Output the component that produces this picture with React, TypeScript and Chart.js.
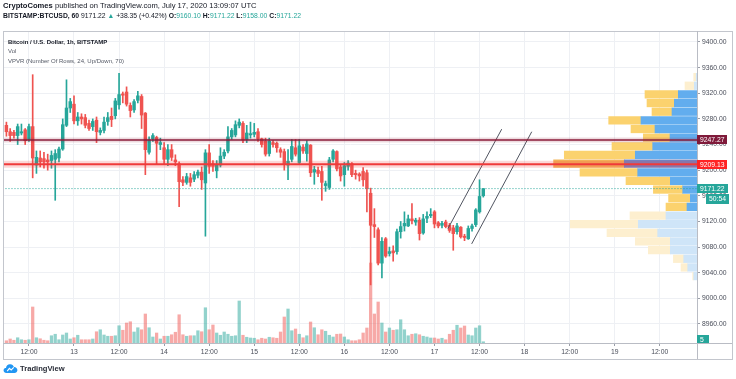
import React, { useEffect, useRef } from 'react';
import { Chart, registerables } from 'chart.js';

Chart.register(...registerables);

// ---- Data (hourly candles, Jul 12 06:00 -> Jul 17 13:00) ----
const candleOpen = [
  9270, 9260, 9259, 9254, 9258, 9263, 9248, 9268, 9208, 9219, 9218, 9216, 9215, 9217, 9219, 9233,
  9270, 9297, 9303, 9277, 9283, 9282, 9273, 9268, 9278, 9259, 9262, 9276, 9284, 9285, 9302, 9319,
  9322, 9301, 9294, 9309, 9315, 9289, 9228, 9249, 9251, 9240, 9235, 9217, 9232, 9216, 9210, 9185,
  9181, 9188, 9186, 9192, 9197, 9180, 9227, 9210, 9199, 9208, 9222, 9230, 9252, 9255, 9270, 9273,
  9248, 9255, 9256, 9260, 9249, 9245, 9226, 9243, 9242, 9232, 9229, 9208, 9217, 9235, 9212, 9236,
  9226, 9239, 9197, 9200, 9198, 9176, 9173, 9217, 9229, 9205, 9193, 9206, 9210, 9195, 9194, 9198,
  9196, 9164, 9115, 9107, 9055, 9093, 9070, 9074, 9073, 9104, 9113, 9113, 9124, 9119, 9122, 9102,
  9125, 9129, 9135, 9118, 9114, 9119, 9114, 9110, 9104, 9111, 9097, 9093, 9109, 9115, 9135, 9160.1,
];
const candleHigh = [
  9275, 9265, 9262, 9272, 9272, 9265, 9272, 9349, 9230, 9230, 9228, 9225, 9230, 9232, 9236, 9280,
  9341, 9312, 9316, 9290, 9288, 9287, 9278, 9280, 9283, 9266, 9283, 9290, 9297, 9312, 9351, 9322,
  9330, 9305, 9310, 9323, 9318, 9290, 9252, 9257, 9253, 9250, 9243, 9240, 9240, 9224, 9213, 9190,
  9195, 9195, 9198, 9200, 9205, 9232, 9240, 9215, 9215, 9235, 9232, 9268, 9265, 9277, 9280, 9276,
  9270, 9275, 9273, 9265, 9250, 9250, 9250, 9246, 9244, 9235, 9233, 9232, 9248, 9248, 9248, 9240,
  9246, 9240, 9206, 9205, 9206, 9183, 9220, 9232, 9230, 9208, 9212, 9215, 9212, 9200, 9196, 9204,
  9200, 9172, 9140, 9110, 9095, 9095, 9080, 9082, 9108, 9120, 9135, 9130, 9148, 9125, 9126, 9131,
  9135, 9140, 9137, 9120, 9120, 9122, 9117, 9114, 9117, 9112, 9100, 9113, 9116, 9140, 9185, 9171.22,
];
const candleLow = [
  9253, 9245, 9250, 9240, 9255, 9240, 9245, 9188, 9195, 9205, 9203, 9200, 9203, 9153, 9213, 9231,
  9268, 9290, 9272, 9270, 9272, 9266, 9262, 9262, 9243, 9255, 9258, 9270, 9268, 9280, 9295, 9305,
  9300, 9283, 9290, 9305, 9265, 9193, 9225, 9245, 9210, 9232, 9210, 9207, 9215, 9207, 9143, 9176,
  9178, 9175, 9182, 9188, 9170, 9097, 9195, 9198, 9188, 9205, 9218, 9227, 9248, 9252, 9266, 9243,
  9243, 9250, 9252, 9245, 9236, 9222, 9222, 9236, 9228, 9220, 9200, 9185, 9213, 9222, 9210, 9226,
  9214, 9190, 9178, 9190, 9153, 9167, 9170, 9213, 9199, 9183, 9175, 9200, 9190, 9186, 9183, 9175,
  9135, 9021, 9095, 9052, 9032, 9064, 9066, 9058, 9069, 9094, 9105, 9112, 9116, 9114, 9091, 9100,
  9118, 9126, 9110, 9110, 9110, 9110, 9103, 9075, 9100, 9094, 9090, 9092, 9105, 9112, 9133, 9158,
];
const candleClose = [
  9260, 9254, 9254, 9268, 9260, 9246, 9268, 9219, 9220, 9213, 9213, 9213, 9223, 9226, 9233, 9271,
  9297, 9307, 9277, 9283, 9280, 9270, 9265, 9276, 9260, 9262, 9275, 9282, 9279, 9308, 9318, 9317,
  9303, 9293, 9307, 9316, 9286, 9232, 9247, 9254, 9242, 9243, 9217, 9232, 9220, 9213, 9182, 9181,
  9190, 9181, 9193, 9197, 9185, 9227, 9206, 9206, 9208, 9222, 9228, 9252, 9262, 9271, 9275, 9247,
  9258, 9257, 9259, 9249, 9240, 9225, 9245, 9240, 9235, 9228, 9210, 9214, 9237, 9225, 9238, 9230,
  9241, 9196, 9201, 9195, 9181, 9179, 9216, 9230, 9202, 9191, 9207, 9211, 9193, 9193, 9191, 9185,
  9171, 9114, 9112, 9055, 9089, 9066, 9073, 9071, 9104, 9112, 9117, 9124, 9121, 9122, 9101, 9124,
  9128, 9131, 9116, 9113, 9117, 9112, 9106, 9101, 9113, 9096, 9095, 9109, 9113, 9138, 9159, 9171.22,
];
const volume = [
  9, 16, 11, 21, 13, 11, 13, 144, 21, 17, 11, 9, 29, 35, 13, 32,
  40, 16, 21, 31, 13, 13, 13, 16, 45, 53, 32, 27, 27, 29, 69, 51,
  80, 85, 44, 61, 53, 116, 61, 24, 40, 16, 27, 27, 33, 43, 113, 33,
  27, 29, 29, 49, 45, 141, 53, 72, 40, 31, 44, 35, 27, 29, 168, 31,
  23, 20, 19, 13, 19, 16, 23, 21, 19, 44, 104, 136, 49, 56, 35, 21,
  29, 84, 61, 33, 53, 47, 31, 24, 35, 36, 24, 13, 9, 9, 13, 40,
  60, 320, 116, 164, 80, 44, 60, 51, 53, 93, 53, 29, 35, 37, 33, 27,
  24, 20, 20, 16, 19, 13, 35, 51, 71, 60, 68, 32, 29, 60, 69, 5,
];

// Volume profile (VPVR, 24 rows, top -> bottom)
const vpRowPrice = [
  9345.25, 9331.75, 9318.25, 9304.75, 9291.25, 9277.75, 9264.25, 9250.75, 9237.25, 9223.75, 9210.25, 9196.75,
  9183.25, 9169.75, 9156.25, 9142.75, 9129.25, 9115.75, 9102.25, 9088.75, 9075.25, 9061.75, 9048.25, 9034.75,
];
const vpUp = [8, 27, 187, 227, 250, 560, 420, 270, 443, 617, 727, 593, 267, 143, 67, 100, 310, 587, 393, 267, 267, 133, 93, 33];
const vpDown = [25, 93, 333, 273, 200, 323, 240, 267, 407, 710, 707, 577, 443, 293, 217, 210, 360, 680, 507, 350, 220, 103, 67, 10];
const vpValueAreaFirst = 2;
const vpValueAreaLast = 15;
const vpPocRow = 10;

// Axis ticks
const timeTickHours = [6, 18, 30, 42, 54, 66, 78, 90, 102, 114, 126, 138, 150, 162, 174];
const timeTickLabels = ['12:00', '13', '12:00', '14', '12:00', '15', '12:00', '16', '12:00', '17', '12:00', '18', '12:00', '19', '12:00'];
const priceTicks = [8960, 9000, 9040, 9080, 9120, 9160, 9200, 9240, 9280, 9320, 9360, 9400];

// Drawn levels and trend lines
const resistanceLevel = 9247.27;
const supportLevel = 9209.13;
const lastPrice = 9171.22;
const countdownText = '50:54';
const lastVolume = 5;
const trendLine1Hours = [117.6, 131.9];
const trendLine1Prices = [9109, 9264];
const trendLine2Hours = [123.9, 139.9];
const trendLine2Prices = [9085, 9260];

const FONT = "'Liberation Sans', 'DejaVu Sans', Arial, sans-serif";
const GREEN = '#26a69a';
const RED = '#ef5350';

const X_MIN = -0.64;
const X_MAX = 183.91;
const Y_MIN = 8930.35;
const Y_MAX = 9415.6;

export default function App() {
  const ref = useRef<HTMLCanvasElement | null>(null);

  useEffect(() => {
    const canvas = ref.current;
    if (!canvas) return;
    const idx = candleOpen.map((_, i) => i);
    const isUp = idx.map((i) => candleClose[i] >= candleOpen[i]);

    const hline = (price: number, color: string, width: number, dash?: number[]) => ({
      type: 'line' as const,
      data: [
        { x: X_MIN - 2, y: price },
        { x: X_MAX + 2, y: price },
      ],
      borderColor: color,
      borderWidth: width,
      borderDash: dash || [],
      pointRadius: 0,
      pointHitRadius: 0,
      xAxisID: 'x',
      yAxisID: 'y',
      order: 0,
    });
    const tline = (hs: number[], ps: number[]) => ({
      type: 'line' as const,
      data: hs.map((h, k) => ({ x: h, y: ps[k] })),
      borderColor: '#505460',
      borderWidth: 1,
      pointRadius: 0,
      pointHitRadius: 0,
      xAxisID: 'x',
      yAxisID: 'y',
      order: 0,
    });

    const vpColor = (k: number, kind: 'up' | 'down') => {
      if (k === vpPocRow) return kind === 'up' ? '#6f86c6' : '#f3b55a';
      const inVA = k >= vpValueAreaFirst && k <= vpValueAreaLast;
      if (kind === 'up') return inVA ? '#62adee' : '#cfe5f8';
      return inVA ? '#fbd26e' : '#fdefcf';
    };

    const labelsPlugin = {
      id: 'tvDecor',
      afterDraw(chart: any) {
        const c = chart.ctx;
        const area = chart.chartArea;
        const y = chart.scales.y;
        const yVol = chart.scales.yVol;
        c.save();
        c.strokeStyle = '#c3c6cd';
        c.lineWidth = 1;
        c.strokeRect(3.5, 31.5, 729, 328);
        c.strokeStyle = '#b9bcc4';
        c.beginPath();
        c.moveTo(3, area.bottom + 0.5);
        c.lineTo(732, area.bottom + 0.5);
        c.moveTo(area.right + 0.5, 31);
        c.lineTo(area.right + 0.5, 359);
        c.stroke();

        const box = (py: number, text: string, bg: string, x0: number, w: number, h: number) => {
          c.fillStyle = bg;
          c.fillRect(x0, Math.round(py - h / 2), w, h);
          c.fillStyle = '#ffffff';
          c.font = `6.8px ${FONT}`;
          c.textBaseline = 'middle';
          c.textAlign = 'left';
          c.fillText(text, x0 + 3, Math.round(py - h / 2) + h / 2 + 0.5);
        };
        const right = area.right;
        box(y.getPixelForValue(resistanceLevel), resistanceLevel.toFixed(2), '#7f1a3a', right, 30, 9);
        box(y.getPixelForValue(supportLevel), supportLevel.toFixed(2), '#ff2424', right, 30, 9);
        const lp = y.getPixelForValue(lastPrice);
        box(lp, lastPrice.toFixed(2), GREEN, right, 31, 9);
        box(lp + 10, countdownText, GREEN, right + 9, 23, 10);
        c.save();
        c.beginPath();
        c.rect(right, area.top, 40, area.bottom - area.top);
        c.clip();
        box(yVol.getPixelForValue(lastVolume) - 2, String(lastVolume), GREEN, right, 12, 9);
        c.restore();
        c.restore();
      },
    };

    const chart = new Chart(canvas, {
      type: 'bar',
      data: {
        datasets: [
          hline(resistanceLevel, 'rgba(142,27,54,0.16)', 5),
          hline(supportLevel, 'rgba(242,54,54,0.2)', 7),
          hline(resistanceLevel, '#8a1c38', 1.5),
          hline(supportLevel, '#ef3b3b', 2),
          hline(lastPrice, GREEN, 1, [1, 2]),
          tline(trendLine1Hours, trendLine1Prices),
          tline(trendLine2Hours, trendLine2Prices),
          {
            type: 'bar',
            data: idx.map((i) => ({ x: i, y: [candleOpen[i], candleClose[i]] })),
            backgroundColor: idx.map((i) => (isUp[i] ? GREEN : RED)),
            barThickness: 2.8,
            grouped: false,
            minBarLength: 1,
            xAxisID: 'x',
            yAxisID: 'y',
            order: 1,
          } as any,
          {
            type: 'bar',
            data: idx.map((i) => ({ x: i, y: [candleLow[i], candleHigh[i]] })),
            backgroundColor: idx.map((i) => (isUp[i] ? GREEN : RED)),
            barThickness: 1,
            grouped: false,
            xAxisID: 'x',
            yAxisID: 'y',
            order: 2,
          } as any,
          {
            type: 'bar',
            indexAxis: 'y',
            data: vpRowPrice.map((p, k) => ({ x: [0, vpUp[k]], y: p })),
            backgroundColor: vpRowPrice.map((_, k) => vpColor(k, 'up')),
            barThickness: 7.6,
            grouped: false,
            xAxisID: 'xProf',
            yAxisID: 'y',
            order: 3,
          } as any,
          {
            type: 'bar',
            indexAxis: 'y',
            data: vpRowPrice.map((p, k) => ({ x: [vpUp[k], vpUp[k] + vpDown[k]], y: p })),
            backgroundColor: vpRowPrice.map((_, k) => vpColor(k, 'down')),
            barThickness: 7.6,
            grouped: false,
            xAxisID: 'xProf',
            yAxisID: 'y',
            order: 3,
          } as any,
          {
            type: 'bar',
            data: idx.map((i) => ({ x: i, y: volume[i] })),
            backgroundColor: idx.map((i) => (isUp[i] ? 'rgba(38,166,154,0.5)' : 'rgba(239,83,80,0.5)')),
            barThickness: 2.6,
            grouped: false,
            xAxisID: 'x',
            yAxisID: 'yVol',
            order: 4,
          } as any,
        ],
      },
      options: {
        animation: false,
        responsive: false,
        devicePixelRatio: 1,
        events: [],
        layout: { autoPadding: false, padding: { left: 4, top: 32, right: 4, bottom: 20 } },
        plugins: { legend: { display: false }, tooltip: { enabled: false } },
        scales: {
          x: {
            type: 'linear',
            axis: 'x',
            position: 'bottom',
            offset: false,
            min: X_MIN,
            max: X_MAX,
            afterBuildTicks: (s: any) => {
              s.ticks = timeTickHours.map((v) => ({ value: v }));
            },
            afterFit: (s: any) => {
              s.height = 16;
              s.paddingLeft = 0;
              s.paddingRight = 0;
            },
            ticks: {
              autoSkip: false,
              maxRotation: 0,
              padding: 2.5,
              color: '#4a4e5a',
              font: { size: 6.8, family: FONT },
              callback: (v: any) => {
                const k = timeTickHours.indexOf(Number(v));
                return k >= 0 ? timeTickLabels[k] : '';
              },
            },
            grid: { offset: false, color: '#eef0f4', tickColor: '#9a9ea8', tickLength: 3 },
            border: { display: true, color: '#b9bcc4' },
          },
          y: {
            type: 'linear',
            axis: 'y',
            position: 'right',
            offset: false,
            min: Y_MIN,
            max: Y_MAX,
            afterBuildTicks: (s: any) => {
              s.ticks = priceTicks.map((v) => ({ value: v }));
            },
            afterFit: (s: any) => {
              s.width = 35;
              s.paddingTop = 0;
              s.paddingBottom = 0;
            },
            ticks: {
              padding: 2,
              color: '#4a4e5a',
              font: { size: 6.8, family: FONT },
              callback: (v: any) => Number(v).toFixed(2),
            },
            grid: { offset: false, color: '#eef0f4', tickColor: '#9a9ea8', tickLength: 3 },
            border: { display: true, color: '#b9bcc4' },
          },
          yVol: {
            type: 'linear',
            axis: 'y',
            position: 'right',
            display: false,
            offset: false,
            min: 0,
            max: 1244,
          },
          xProf: {
            type: 'linear',
            axis: 'x',
            position: 'bottom',
            display: false,
            offset: false,
            reverse: true,
            min: 0,
            max: 6930,
          },
        } as any,
      },
      plugins: [labelsPlugin],
    });
    return () => chart.destroy();
  }, []);

  const green = { color: GREEN };
  return (
    <div
      style={{
        position: 'fixed',
        left: 0,
        top: 0,
        width: 736,
        height: 379,
        background: '#ffffff',
        overflow: 'hidden',
        fontFamily: FONT,
        color: '#131722',
      }}
    >
      <canvas ref={ref} width={736} height={379} style={{ position: 'absolute', left: 0, top: 0 }} />
      <div style={{ position: 'absolute', left: 3, top: 1, fontSize: 7.6, lineHeight: '10px', whiteSpace: 'nowrap' }}>
        <b>CryptoComes</b> published on TradingView.com, July 17, 2020 13:09:07 UTC
      </div>
      <div style={{ position: 'absolute', left: 3, top: 11, fontSize: 6.8, lineHeight: '10px', whiteSpace: 'nowrap' }}>
        <b>BITSTAMP:BTCUSD, 60</b> 9171.22 <span style={green}>▲</span> +38.35 (+0.42%) <b>O:</b>
        <span style={green}>9160.10</span> <b>H:</b>
        <span style={green}>9171.22</span> <b>L:</b>
        <span style={green}>9158.00</span> <b>C:</b>
        <span style={green}>9171.22</span>
      </div>
      <div style={{ position: 'absolute', left: 8, top: 37.5, fontSize: 6.0, lineHeight: '9.6px', whiteSpace: 'nowrap' }}>
        <div style={{ fontWeight: 600 }}>Bitcoin / U.S. Dollar, 1h, BITSTAMP</div>
        <div style={{ color: '#555a66' }}>Vol</div>
        <div style={{ color: '#555a66' }}>VPVR (Number Of Rows, 24, Up/Down, 70)</div>
      </div>
      <div style={{ position: 'absolute', left: 3, top: 362, display: 'flex', alignItems: 'center' }}>
        <svg width="15" height="12" viewBox="0 0 15 12">
          <path
            d="M3.5 11 C1.4 11 0.3 9.5 0.6 8 C0.9 6.6 2 6 3 6.1 C3.2 3.7 5 2 7.3 2.2 C9.1 2.3 10.4 3.5 10.9 5 C12.8 4.9 14.5 6.4 14.4 8.3 C14.3 9.9 13.1 11 11.5 11 Z"
            fill="#2196f3"
          />
          <path d="M4.2 9.2 L6.4 6.4 L8.2 8 L10.8 5.3" stroke="#ffffff" strokeWidth="1.1" fill="none" />
        </svg>
        <span style={{ marginLeft: 2, fontSize: 7.6, fontWeight: 600, color: '#2a2e39' }}>TradingView</span>
      </div>
    </div>
  );
}
